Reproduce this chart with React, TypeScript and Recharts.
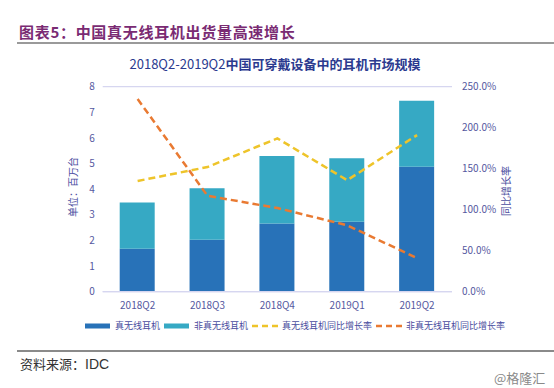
import React from "react";
import { ComposedChart, Bar, Line, XAxis, YAxis, CartesianGrid } from "recharts";

const categories = ["2018Q2", "2018Q3", "2018Q4", "2019Q1", "2019Q2"];
const trueWireless = [1.68, 2.03, 2.66, 2.73, 4.88];
const nonTrueWireless = [1.8, 2.01, 2.64, 2.48, 2.57];
const trueWirelessYoY = [1.35, 1.52, 1.87, 1.36, 1.91];
const nonTrueWirelessYoY = [2.35, 1.17, 1.02, 0.81, 0.41];
const leftTicks = [0, 1, 2, 3, 4, 5, 6, 7, 8];
const rightTicks = [0, 0.5, 1, 1.5, 2, 2.5];

const names = {
  tw: "真无线耳机",
  ntw: "非真无线耳机",
  twy: "真无线耳机同比增长率",
  ntwy: "非真无线耳机同比增长率",
};

const C_DARK = "#2872B8";
const C_TEAL = "#36A9C4";
const C_YEL = "#EEC42A";
const C_ORA = "#E97A32";
const C_TXT = "#5558A0";
const C_GRID = "#D6D6F0";

const data = categories.map((c, i) => ({
  cat: c,
  tw: trueWireless[i],
  ntw: nonTrueWireless[i],
  twy: trueWirelessYoY[i],
  ntwy: nonTrueWirelessYoY[i],
}));

const FONT = "'Noto Sans CJK SC', 'Noto Sans', sans-serif";

const legendItems = [
  { key: "tw", color: C_DARK, type: "rect" },
  { key: "ntw", color: C_TEAL, type: "rect" },
  { key: "twy", color: C_YEL, type: "dash" },
  { key: "ntwy", color: C_ORA, type: "dash" },
];

const LegendBox = () => (
  <div style={{ position: "absolute", left: 85, top: 319, display: "flex", alignItems: "center", fontFamily: FONT, fontSize: 9, color: "#4A4DA0", whiteSpace: "nowrap" }}>
    {legendItems.map((it) => (
      <div key={it.key} style={{ display: "flex", alignItems: "center", marginRight: 4 }}>
        <svg width={27} height={8} style={{ marginRight: 3 }}>
          {it.type === "rect" ? (
            <rect x={0} y={1.5} width={25} height={5} fill={it.color} />
          ) : (
            <line x1={0} y1={4} x2={26} y2={4} stroke={it.color} strokeWidth={2.5} strokeDasharray="6 4" />
          )}
        </svg>
        <span>{(names as any)[it.key]}</span>
      </div>
    ))}
  </div>
);

export default function App() {
  return (
    <div style={{ position: "absolute", left: 0, top: 0, width: 554, height: 388, background: "#fff", overflow: "hidden", fontFamily: FONT }}>
      <div style={{ position: "absolute", left: 19, top: 21, fontSize: 15, fontWeight: 700, color: "#7A2B73", letterSpacing: 0.7, whiteSpace: "nowrap" }}>
        图表5：中国真无线耳机出货量高速增长
      </div>
      <div style={{ position: "absolute", left: 17, top: 42, width: 537, height: 2, background: "#9A9A9A" }} />
      <div style={{ position: "absolute", left: 0, width: 550, top: 54, textAlign: "center", fontSize: 13, color: "#2B3A8F", whiteSpace: "nowrap" }}>
        <span>2018Q2-2019Q2</span>
        <span style={{ fontWeight: 700 }}>中国可穿戴设备中的耳机市场规模</span>
      </div>
      <div style={{ position: "absolute", left: 0, top: 0 }}>
        <ComposedChart
          width={554}
          height={388}
          data={data}
          margin={{ top: 86.7, right: 42, bottom: 76.3, left: 62.7 }}
        >
          <CartesianGrid horizontal vertical={false} stroke={C_GRID} strokeWidth={1.2} />
          <XAxis
            dataKey="cat"
            height={20}
            axisLine={{ stroke: C_GRID, strokeWidth: 1.2 }}
            tickLine={false}
            tick={{ fill: C_TXT, fontSize: 10, fontFamily: FONT }}
            tickMargin={4}
          />
          <YAxis
            yAxisId="left"
            width={40}
            domain={[0, 8]}
            ticks={leftTicks}
            axisLine={false}
            tickLine={false}
            tick={{ fill: C_TXT, fontSize: 10, fontFamily: FONT }}
            tickMargin={2}
          />
          <YAxis
            yAxisId="right"
            orientation="right"
            width={60}
            domain={[0, 2.5]}
            ticks={rightTicks}
            axisLine={false}
            tickLine={false}
            tick={{ fill: C_TXT, fontSize: 10, fontFamily: FONT, textAnchor: "start" }}
            tickMargin={4}
            tickFormatter={(v: number) => (v * 100).toFixed(1) + "%"}
          />
          <Bar yAxisId="left" dataKey="tw" name={names.tw} stackId="a" fill={C_DARK} barSize={35} isAnimationActive={false} />
          <Bar yAxisId="left" dataKey="ntw" name={names.ntw} stackId="a" fill={C_TEAL} barSize={35} isAnimationActive={false} />
          <Line yAxisId="right" dataKey="twy" name={names.twy} stroke={C_YEL} strokeWidth={2.5} strokeDasharray="7 4" dot={false} type="linear" isAnimationActive={false} />
          <Line yAxisId="right" dataKey="ntwy" name={names.ntwy} stroke={C_ORA} strokeWidth={2.5} strokeDasharray="7 4" dot={false} type="linear" isAnimationActive={false} />
        </ComposedChart>
      </div>
      <LegendBox />
      <div style={{ position: "absolute", left: 72, top: 187, transform: "translate(-50%, -50%) rotate(-90deg)", fontSize: 10, color: "#4A4DA0", whiteSpace: "nowrap" }}>
        单位：百万台
      </div>
      <div style={{ position: "absolute", left: 505, top: 191, transform: "translate(-50%, -50%) rotate(-90deg)", fontSize: 10, color: "#4A4DA0", whiteSpace: "nowrap" }}>
        同比增长率
      </div>
      <div style={{ position: "absolute", left: 17, top: 350, width: 537, height: 1.5, background: "#8A8A8A" }} />
      <div style={{ position: "absolute", left: 20, top: 354, fontSize: 13, color: "#333", whiteSpace: "nowrap" }}>
        资料来源：<span style={{ fontFamily: "'Liberation Sans', Arial, sans-serif", fontSize: 14 }}>IDC</span>
      </div>
      <div style={{ position: "absolute", left: 494, top: 368, fontSize: 13, color: "#8A8A8A", whiteSpace: "nowrap" }}>
        @格隆汇
      </div>
    </div>
  );
}
